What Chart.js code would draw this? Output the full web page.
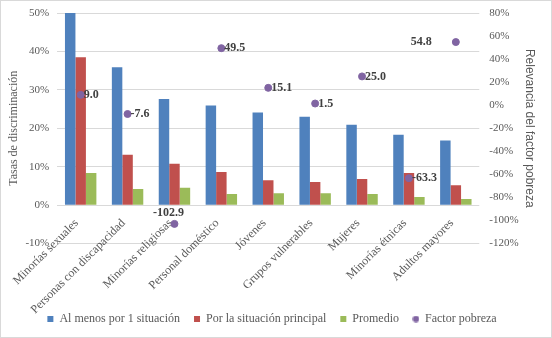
<!DOCTYPE html>
<html>
<head>
<meta charset="utf-8">
<script src="https://cdn.jsdelivr.net/npm/chart.js@4/dist/chart.umd.min.js"></script>
<style>
  html, body { margin: 0; padding: 0; background: #fff; }
  #wrap { width: 550px; height: 336px; border: 1px solid #d9d9d9; }
</style>
</head>
<body>
<div id="wrap"><canvas id="myChart" width="550" height="336"></canvas></div>
<script>
const categories = [
  'Minorías sexuales',
  'Personas con discapacidad',
  'Minorías religiosas',
  'Personal doméstico',
  'Jóvenes',
  'Grupos vulnerables',
  'Mujeres',
  'Minorías étnicas',
  'Adultos mayores'
];

// tasas de discriminación (%)
const alMenosUna = [50.2, 35.9, 27.6, 25.9, 24.1, 23.0, 20.9, 18.3, 16.8];
const situacionPrincipal = [38.5, 13.1, 10.8, 8.6, 6.5, 6.0, 6.8, 8.4, 5.2];
const promedio = [8.4, 4.2, 4.5, 2.9, 3.1, 3.1, 2.9, 2.1, 1.6];

// relevancia del factor pobreza (%)
const factorPobreza = [9.0, -7.6, -102.9, 49.5, 15.1, 1.5, 25.0, -63.3, 54.8];

const leftTicks = { min: -10, max: 50, step: 10 };
const rightTicks = { min: -120, max: 80, step: 20 };

// where each point label goes
const labelPlacement = ['right', 'right', 'above', 'right', 'right', 'right', 'right', 'right', 'left'];

const serif = 'Liberation Serif';
const grey = '#595959';
const purple = '#8064a2';

Chart.defaults.font.family = serif;

// small round marker for the legend
const dot = document.createElement('canvas');
dot.width = 7; dot.height = 7;
const dctx = dot.getContext('2d');
dctx.fillStyle = purple;
dctx.beginPath();
dctx.arc(3.5, 3.5, 3.2, 0, Math.PI * 2);
dctx.fill();

const pointLabels = {
  id: 'pointLabels',
  afterDatasetsDraw(chart) {
    const meta = chart.getDatasetMeta(3);
    const ctx = chart.ctx;
    ctx.save();
    ctx.font = 'bold 12px "' + serif + '"';
    ctx.fillStyle = '#404040';
    ctx.textBaseline = 'middle';
    meta.data.forEach((pt, i) => {
      const txt = factorPobreza[i].toFixed(1);
      const pos = labelPlacement[i];
      if (pos === 'above') {
        ctx.textAlign = 'center';
        ctx.fillText(txt, pt.x - 6, pt.y - 11);
      } else if (pos === 'left') {
        ctx.textAlign = 'right';
        ctx.fillText(txt, pt.x - 24, pt.y);
      } else {
        ctx.textAlign = 'left';
        ctx.fillText(txt, pt.x + 3, pt.y);
      }
    });
    ctx.restore();
  }
};

// keep axis label overhang from pushing the plot area around
const noOverhang = (s) => {
  s.paddingTop = 0; s.paddingBottom = 0;
  s.paddingLeft = 0; s.paddingRight = 0;
};

const el = document.getElementById('myChart');

const data = {
  labels: categories,
  datasets: [
    {
      label: 'Al menos por 1 situación',
      data: alMenosUna,
      backgroundColor: '#4f81bd',
      pointStyle: 'rect',
      yAxisID: 'y',
      order: 2
    },
    {
      label: 'Por la situación principal',
      data: situacionPrincipal,
      backgroundColor: '#c0504d',
      pointStyle: 'rect',
      yAxisID: 'y',
      order: 2
    },
    {
      label: 'Promedio',
      data: promedio,
      backgroundColor: '#9bbb59',
      pointStyle: 'rect',
      yAxisID: 'y',
      order: 2
    },
    {
      type: 'line',
      label: 'Factor pobreza',
      data: factorPobreza,
      showLine: false,
      pointStyle: 'circle',
      pointRadius: 3.5,
      pointBackgroundColor: purple,
      pointBorderColor: purple,
      backgroundColor: purple,
      borderColor: purple,
      yAxisID: 'y1',
      order: 1
    }
  ]
};

const config = {
  type: 'bar',
  data: data,
  options: {
    responsive: false,
    animation: false,
    layout: { padding: { top: 12, right: 10, left: 2, bottom: 2 } },
    datasets: {
      bar: { categoryPercentage: 0.67, barPercentage: 1.0 }
    },
    plugins: {
      tooltip: { enabled: false },
      legend: {
        position: 'bottom',
        title: {
          display: true,
          text: ' ',
          font: { size: 12 },
          padding: { top: 41, bottom: 0 }
        },
        labels: {
          usePointStyle: true,
          boxWidth: 6,
          boxHeight: 6,
          padding: 14,
          color: grey,
          font: { family: serif, size: 12 },
          sort: (a, b) => a.datasetIndex - b.datasetIndex,
          generateLabels(chart) {
            const items = Chart.defaults.plugins.legend.labels.generateLabels(chart);
            items.forEach(it => { if (it.datasetIndex === 3) it.pointStyle = dot; });
            return items;
          }
        }
      }
    },
    scales: {
      x: {
        position: { y: 0 },
        afterFit: noOverhang,
        grid: { display: false, drawTicks: false },
        border: { display: false },
        ticks: {
          color: grey,
          font: { family: serif, size: 12 },
          maxRotation: 45,
          minRotation: 45,
          autoSkip: false,
          padding: 11,
          labelOffset: -4
        }
      },
      y: {
        position: 'left',
        min: leftTicks.min,
        max: leftTicks.max,
        afterFit: noOverhang,
        grid: { color: '#d9d9d9', drawTicks: false },
        border: { display: false },
        ticks: {
          stepSize: leftTicks.step,
          padding: 8,
          color: grey,
          font: { family: serif, size: 11 },
          callback: v => v + '%'
        },
        title: {
          display: true,
          text: 'Tasas de discriminación',
          color: grey,
          padding: { top: 4, bottom: -4 },
          font: { family: serif, size: 12 }
        }
      },
      y1: {
        position: 'right',
        min: rightTicks.min,
        max: rightTicks.max,
        afterFit: noOverhang,
        grid: { display: false, drawTicks: false },
        border: { display: false },
        ticks: {
          stepSize: rightTicks.step,
          padding: 10,
          color: grey,
          font: { family: serif, size: 11 },
          callback: v => v + '%'
        },
        title: {
          display: true,
          text: 'Relevancia del factor pobreza',
          color: grey,
          padding: { top: 4, bottom: -6 },
          font: { family: 'Liberation Sans', size: 12 }
        }
      }
    }
  },
  plugins: [pointLabels]
};

const myChart = new Chart(el, config);
</script>
</body>
</html>
